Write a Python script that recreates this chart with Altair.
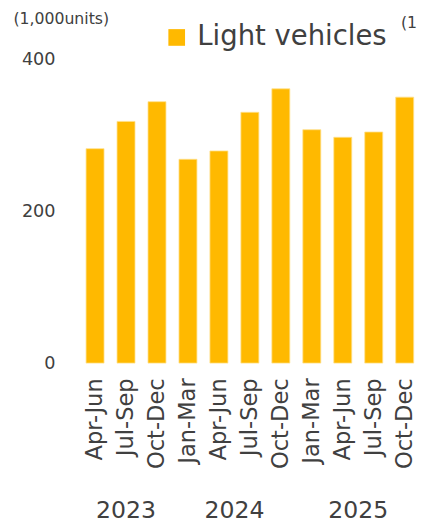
import altair as alt
import pandas as pd

years = ["2023", "2023", "2023", "2024", "2024", "2024", "2024", "2025", "2025", "2025", "2025"]
quarters = ["Apr-Jun", "Jul-Sep", "Oct-Dec", "Jan-Mar", "Apr-Jun", "Jul-Sep", "Oct-Dec",
            "Jan-Mar", "Apr-Jun", "Jul-Sep", "Oct-Dec"]
values = [283, 319, 345, 269, 280, 331, 362, 308, 298, 305, 351]
series_name = "Light vehicles"
unit_label = "(1,000units)"
next_panel_fragment = "(1"
y_ticks = [0, 200, 400]

keys = [f"{y}|{q}" for y, q in zip(years, quarters)]
df = pd.DataFrame({"key": keys, "year": years, "quarter": quarters, "value": values,
                   "series": [series_name] * len(values)})

# year label anchors: middle bar (odd count) or left-of-middle bar (even count)
year_rows = []
for yr in ["2023", "2024", "2025"]:
    ks = [k for k, y in zip(keys, years) if y == yr]
    n = len(ks)
    year_rows.append({"year": yr, "key": ks[(n - 1) // 2], "even": n % 2 == 0})
ydf = pd.DataFrame(year_rows)

FONT = "DejaVu Sans"
TXT = "#404040"
BAR = "#FFB900"

x = alt.X("key:N", sort=keys,
          scale=alt.Scale(paddingInner=0.42, paddingOuter=0.174, align=0.6),
          axis=alt.Axis(title=None, labelAngle=-90, labelExpr="split(datum.label, '|')[1]",
                        labelFontSize=23, labelColor=TXT, labelFont=FONT, labelPadding=15,
                        ticks=False, tickSize=0, domain=False, grid=False))

bars = alt.Chart(df).mark_bar(stroke="#FFE08A", strokeWidth=0.8).encode(
    x=x,
    y=alt.Y("value:Q", scale=alt.Scale(domain=[0, 400], nice=False),
            axis=alt.Axis(values=y_ticks, title=unit_label, titleAngle=0, titleAlign="left",
                          titleBaseline="middle", titleX=-68, titleY=-42, titleFontSize=16,
                          titleFontWeight="normal", titleColor=TXT, titleFont=FONT,
                          labelFontSize=18, labelColor=TXT, labelFont=FONT, labelPadding=25,
                          ticks=False, tickSize=0, domain=False, grid=False)),
    color=alt.Color("series:N", scale=alt.Scale(range=[BAR]),
                    legend=alt.Legend(title=None, orient="none", legendX=85, legendY=-37,
                                      symbolType="square", symbolSize=289, symbolStrokeWidth=0,
                                      labelFontSize=28, labelColor=TXT, labelFont=FONT,
                                      labelOffset=7, labelLimit=0, padding=0)),
)

year_odd = alt.Chart(ydf).transform_filter("!datum.even").mark_text(
    fontSize=24, font=FONT, color=TXT, baseline="alphabetic", align="center"
).encode(x=alt.X("key:N", sort=keys), y=alt.value(467), text="year:N")

year_even = alt.Chart(ydf).transform_filter("datum.even").mark_text(
    fontSize=24, font=FONT, color=TXT, baseline="alphabetic", align="center", dx=15.8
).encode(x=alt.X("key:N", sort=keys), y=alt.value(467), text="year:N")

next_unit = alt.Chart(pd.DataFrame({"t": [next_panel_fragment]})).mark_text(
    fontSize=16, font=FONT, color=TXT, align="right", baseline="middle"
).encode(x=alt.value(344), y=alt.value(-38), text="t:N")

chart = alt.layer(bars, year_odd, year_even, next_unit).properties(
    width=345, height=309,
    autosize=alt.AutoSizeParams(type="none"),
    padding={"left": 73, "top": 48, "right": 0, "bottom": 159},
).configure_view(stroke=None)

chart.save("out.html", embed_options={"renderer": "svg", "actions": False})
